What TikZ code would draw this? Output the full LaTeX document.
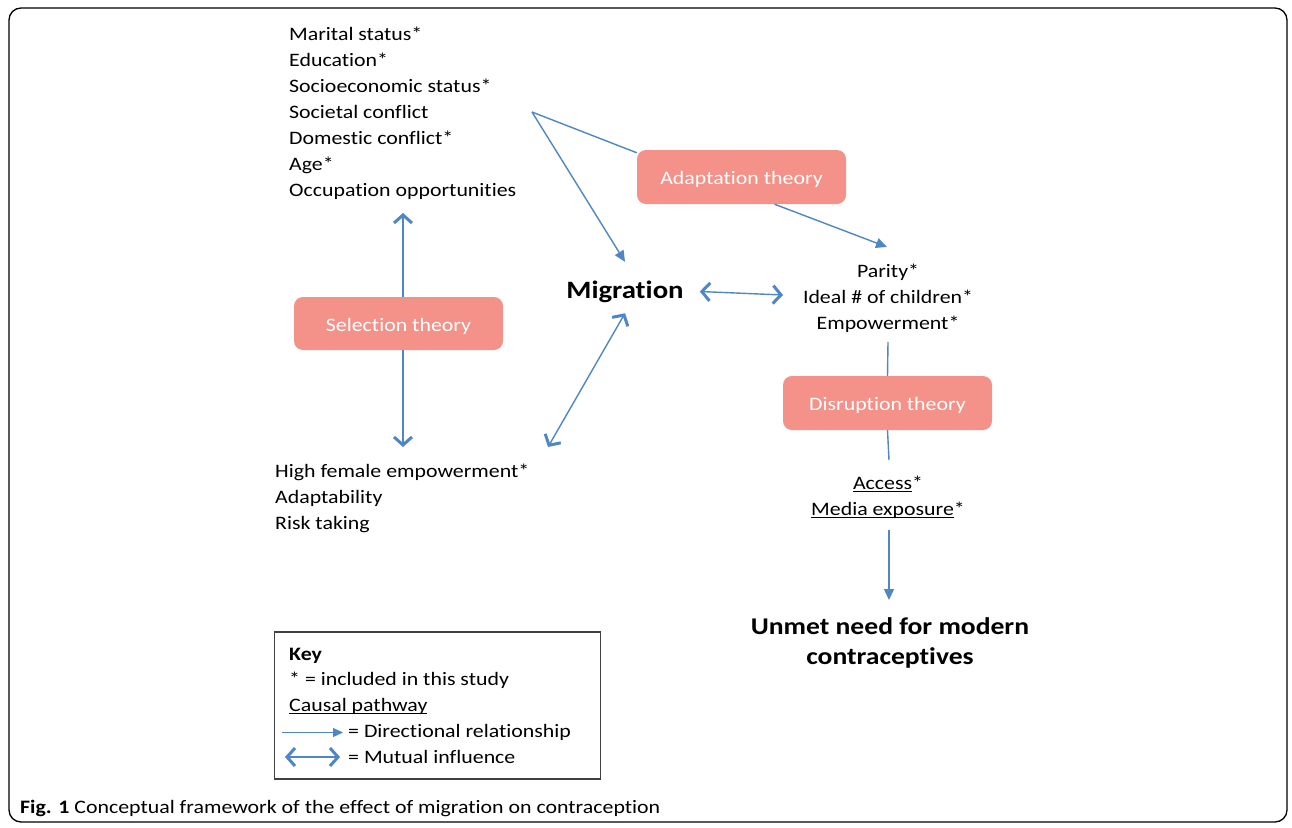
\documentclass[tikz,border=0pt]{standalone}
\usepackage{fontspec}
\setmainfont{Carlito}[Ligatures=NoCommon, FakeStretch=1.15]
\usetikzlibrary{arrows.meta,calc}
\definecolor{salmon}{HTML}{F49188}
\definecolor{arrblue}{HTML}{4F86C6}
\definecolor{keygray}{HTML}{404040}
\newcommand\fs[2]{\fontsize{#1}{#2}\selectfont}
\newcommand\myul[1]{\setbox0\hbox{#1}\rlap{\rule[-2.4pt]{\wd0}{1pt}}\box0}
\newcommand\lowr[1]{\raisebox{-2.5pt}[\height][\depth]{#1}}
\begin{document}
\begin{tikzpicture}[x=1pt,y=-1pt,
  txt/.style={inner sep=0pt, font=\fs{19}{26}},
  theory/.style={rectangle, rounded corners=9pt, fill=salmon, text=white,
    font=\fs{19}{23}, minimum width=209pt, minimum height=54pt, inner sep=0pt},
  dir/.style={draw=arrblue, line width=1.4pt, -{Triangle[length=11pt,width=10pt]}},
  barb/.style={draw=arrblue, line width=1.4pt,
    -{Straight Barb[length=8pt,width=18pt,line width=3pt]}},
  mutual/.style={draw=arrblue, line width=1.4pt,
    {Straight Barb[length=8pt,width=18pt,line width=3pt]}-{Straight Barb[length=8pt,width=18pt,line width=3pt]}},
  plain/.style={draw=arrblue, line width=1.4pt}
]
\useasboundingbox (0,0) rectangle (1292,827);
\fill[white] (0,0) rectangle (1292,827);
\draw[line width=1.3pt, rounded corners=12pt] (9,8) rectangle (1287,822);

% text nodes
\node[txt, align=left, anchor=north west] (factors) at (289,27)
  {Marital status*\\Education*\\Socioeconomic status*\\Societal conflict\\Domestic conflict*\\Age*\\Occupation opportunities};
\coordinate (apex) at (532,112);

\node[theory] (adapt) at (741.5,177) {\lowr{Adaptation theory}};
\node[theory, minimum height=53pt] (sel) at (398.5,323.5) {\lowr{Selection theory}};
\node[theory] (disr) at (887.5,403) {\lowr{Disruption theory}};

\node[inner sep=0pt, font=\bfseries\fs{25}{30}, text height=18pt, text depth=5pt, anchor=base] (mig) at (625,298) {Migration};

\node[txt, align=center, anchor=north] (par) at (888,264)
  {Parity*\\Ideal \# of children*\\Empowerment*};

\node[txt, align=center, anchor=north] (acc) at (888,476)
  {\myul{Access}*\\\myul{Media exposure}*};

\node[inner sep=0pt, font=\bfseries\fs{24}{30}, align=center, anchor=north] (unmet) at (890,617)
  {Unmet need for modern\\contraceptives};

\node[txt, align=left, anchor=north west] (high) at (275,464)
  {High female empowerment*\\Adaptability\\Risk taking};

% connectors
\draw[plain] (apex) -- ($(adapt.north west)+(0,3)$);
\draw[dir] (apex) -- ($(mig.north)+(0,-18)$);
\draw[dir] ($(adapt.south)+(33,0)$) -- ($(par.north)+(-1,-17)$);
\draw[mutual] ($(mig.east)+(16,0)$) -- ($(par.north)+(-105,31)$);
\draw[barb] ($(sel.north)+(4.5,0)$) -- ($(factors.north west)+(114,186)$);
\draw[barb] ($(sel.south)+(4.5,0)$) -- ($(high.north west)+(128,-17)$);
\draw[mutual] ($(high.north west)+(273,-17)$) -- ($(mig.south)+(0,10)$);
\draw[plain] ($(par.north)+(0,78)$) -- (disr.north);
\draw[plain] (disr.south) -- ($(acc.north)+(1,-16)$);
\draw[dir] ($(acc.north)+(1,54)$) -- ($(unmet.north)+(-1,-17)$);

% key
\node[draw=keygray, line width=1.2pt, minimum width=326pt, minimum height=147pt, inner sep=0pt] (keybox) at (437.5,705.5) {};
\node[txt, anchor=base west] (k1) at (289,660) {\bfseries Key};
\node[txt, anchor=base west] (k2) at (289,685.5) {* = included in this study};
\node[txt, anchor=base west] (k3) at (289,711.5) {\myul{Causal pathway}};
\node[txt, anchor=base west] (k4) at (348,737.5) {= Directional relationship};
\node[txt, anchor=base west] (k5) at (348,763.5) {= Mutual influence};
\draw[draw=arrblue, line width=1.2pt, -{Triangle[length=10pt,width=9pt]}]
  ($(k4.base west)+(-66,-5)$) -- ($(k4.base west)+(-5,-5)$);
\draw[draw=arrblue, line width=2.8pt,
  {Straight Barb[length=8pt,width=18pt,line width=3pt]}-{Straight Barb[length=8pt,width=18pt,line width=3pt]}]
  ($(k5.base west)+(-63,-6.5)$) -- ($(k5.base west)+(-8,-6.5)$);

% caption
\node[inner sep=0pt, anchor=base west, font=\fs{19}{23}] (cap) at (20,813)
  {\textbf{Fig. 1} Conceptual framework of the effect of migration on contraception};
\end{tikzpicture}
\end{document}
